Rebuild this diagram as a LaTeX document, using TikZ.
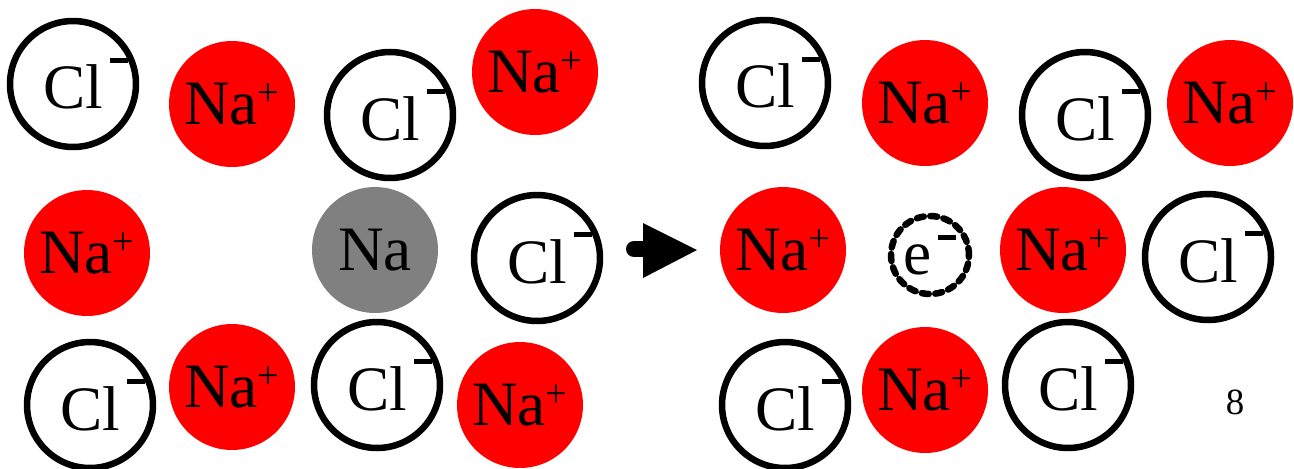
\documentclass[tikz,border=0pt]{standalone}
\usepackage{fontspec}
\setmainfont{Liberation Serif}

\newcommand{\chlor}{Cl\rlap{\hspace{0.12em}\rule[0.72em]{0.28em}{0.08em}}}
\newcommand{\natrium}{Na\raisebox{0.3em}{\fontsize{22}{22}\selectfont +}}
\newcommand{\elek}{e\hspace{0.1em}\rule[0.55em]{0.28em}{0.08em}}

\tikzset{
	ion/.style={circle, minimum size=2.52cm, inner sep=0pt, font=\fontsize{36}{40}\selectfont},
	clion/.style={ion, draw=black, line width=0.13cm, fill=white},
	naion/.style={ion, fill=red},
	naatom/.style={ion, fill=black!50},
	elektron/.style={circle, minimum size=1.56cm, inner sep=0pt, draw=black, line width=0.13cm,
		dash pattern=on 0.14cm off 0.13cm, line cap=round, font=\fontsize{36}{40}\selectfont}
}

\begin{document}
\begin{tikzpicture}[x=0.02cm, y=-0.02cm]
		\useasboundingbox[fill=white] (0,0) rectangle (1294,468);
		
		% Gitter vorher
		\node[clion] (cla) at (73,84) {\chlor};
		\node[naion] (naa) at (232,104) {\natrium};
		\node[clion] (clb) at (390,115) {\chlor};
		\node[naion] (nab) at (535,72) {\natrium};
		
		\node[naion] (nac) at (87,253) {\natrium};
		\node[naatom] (na) at (375,250) {Na};
		\node[clion] (clc) at (537,258) {\chlor};
		
		\node[clion] (cld) at (90,405) {\chlor};
		\node[naion] (nad) at (232,387) {\natrium};
		\node[clion] (cle) at (377,385) {\chlor};
		\node[naion] (nae) at (520,405) {\natrium};
		
		% Pfeil
		\coordinate (pfeilA) at (634,249);
		\coordinate (pfeilB) at (650,249);
		\draw[line width=0.32cm, line cap=round] (pfeilA) -- (pfeilB);
		\fill (643,223) -- (697,250) -- (643,278) -- cycle;
		
		% Gitter nachher
		\node[clion] (clf) at (765,83) {\chlor};
		\node[naion] (naf) at (925,103) {\natrium};
		\node[clion] (clg) at (1085,115) {\chlor};
		\node[naion] (nag) at (1230,103) {\natrium};
		
		\node[naion] (nah) at (783,250) {\natrium};
		\node[elektron] (el) at (930,255) {\elek};
		\node[naion] (nai) at (1063,250) {\natrium};
		\node[clion] (clh) at (1208,257) {\chlor};
		
		\node[clion] (cli) at (785,405) {\chlor};
		\node[naion] (naj) at (925,390) {\natrium};
		\node[clion] (clj) at (1068,385) {\chlor};
		
		\node[font=\fontsize{21}{24}\selectfont] (seite) at (1235,402) {8};
	\end{tikzpicture}
\end{document}
